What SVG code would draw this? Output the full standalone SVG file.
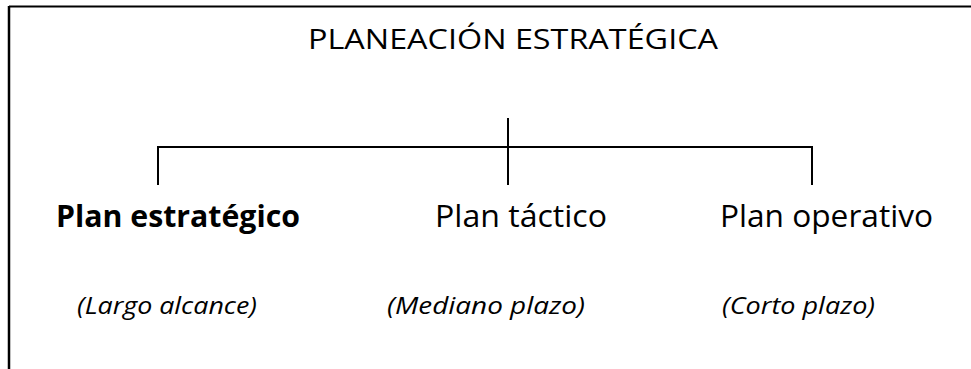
<svg xmlns="http://www.w3.org/2000/svg" width="971" height="369" viewBox="0 0 971 369">
<style>
.ln{stroke:#000;stroke-width:2;fill:none}
.t{font-family:"Open Sans","Liberation Sans",sans-serif;fill:#000}
.title{font-size:27.5px}
.plan{font-size:31px}
.bold{font-weight:bold}
.it{font-size:24px;font-style:italic}
</style>
<rect width="971" height="369" fill="#fff"/>
<g id="frame">
<line class="ln" x1="9" y1="6.5" x2="971" y2="6.5" stroke="#222"/>
<line class="ln" x1="9" y1="6" x2="9" y2="369" style="stroke-width:2.5"/>
</g>
<g id="connectors">
<line class="ln" x1="157" y1="147" x2="812" y2="147"/>
<line class="ln" x1="158" y1="146" x2="158" y2="185"/>
<line class="ln" x1="508" y1="118" x2="508" y2="185"/>
<line class="ln" x1="812" y1="146" x2="812" y2="185"/>
</g>
<g id="title"><text class="t title" x="308" y="49" textLength="410" lengthAdjust="spacingAndGlyphs">PLANEACIÓN ESTRATÉGICA</text></g>
<g id="plan-estrategico">
<text class="t plan bold" x="56" y="227" textLength="244" lengthAdjust="spacingAndGlyphs">Plan estratégico</text>
<text class="t it" x="77" y="314" textLength="180" lengthAdjust="spacingAndGlyphs">(Largo alcance)</text>
</g>
<g id="plan-tactico">
<text class="t plan" x="435" y="227" textLength="172" lengthAdjust="spacingAndGlyphs">Plan táctico</text>
<text class="t it" x="387" y="314" textLength="198" lengthAdjust="spacingAndGlyphs">(Mediano plazo)</text>
</g>
<g id="plan-operativo">
<text class="t plan" x="720" y="227" textLength="213" lengthAdjust="spacingAndGlyphs">Plan operativo</text>
<text class="t it" x="722" y="314" textLength="153" lengthAdjust="spacingAndGlyphs">(Corto plazo)</text>
</g>
</svg>
